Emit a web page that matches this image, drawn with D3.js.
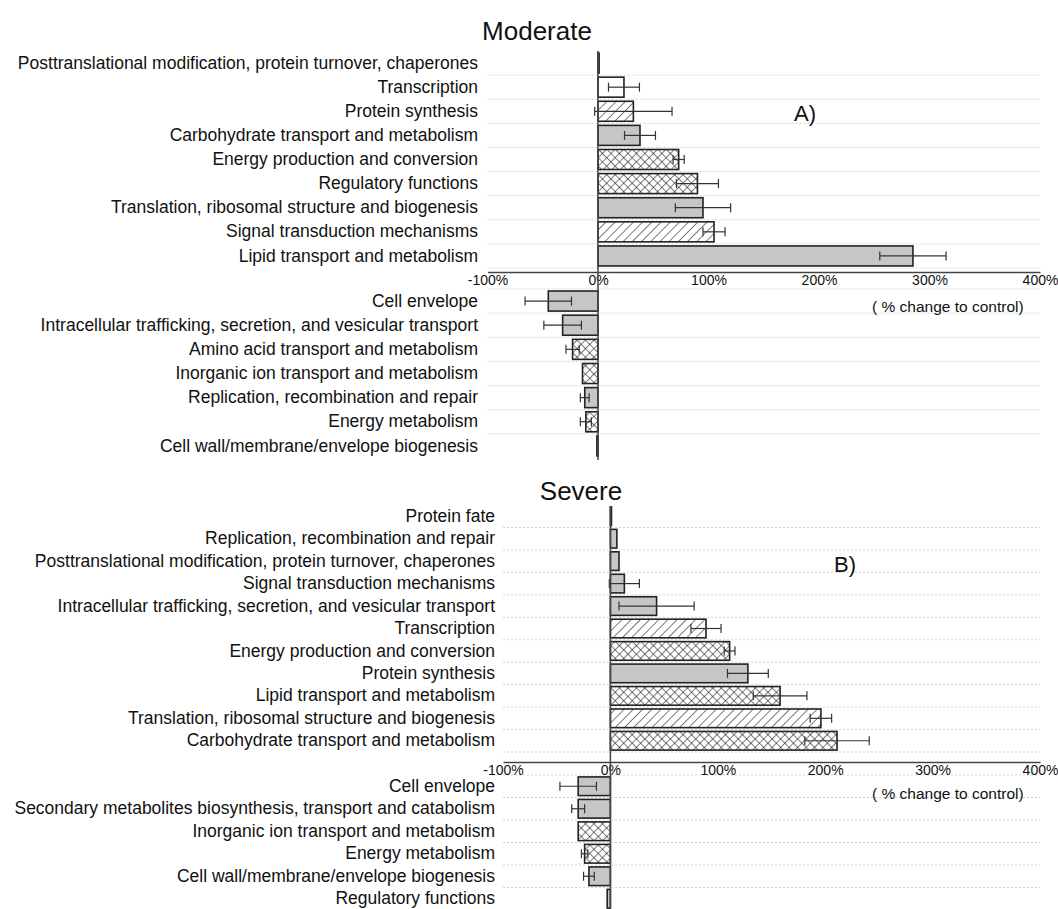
<!DOCTYPE html>
<meta charset="utf-8">
<script src="https://cdn.jsdelivr.net/npm/d3@7"></script>
<style>
    body { margin: 0; background: #fff; }
    svg { font-family: "Liberation Sans", Arial, sans-serif; }
    .cat text { font-size: 17.5px; fill: #111; }
    .xax text { font-size: 14px; fill: #111; }
    .xax path { stroke: #444; stroke-width: 1.5; }
</style>
<svg width="1058" height="909"></svg>
<script>
// ---- data: Moderate (A) ----
var modUpCats = ["Posttranslational modification, protein turnover, chaperones", "Transcription", "Protein synthesis",
    "Carbohydrate transport and metabolism", "Energy production and conversion", "Regulatory functions",
    "Translation, ribosomal structure and biogenesis", "Signal transduction mechanisms", "Lipid transport and metabolism"];
var modUpVals = [1, 23.5, 32, 38, 73, 90, 95, 105, 285];
var modUpErr  = [0, 14, 35, 14, 5, 19, 25, 10, 30];
var modUpFill = ["gray", "white", "diag", "gray", "cross", "cross", "gray", "diag", "gray"];

var modDownCats = ["Cell envelope", "Intracellular trafficking, secretion, and vesicular transport",
    "Amino acid transport and metabolism", "Inorganic ion transport and metabolism",
    "Replication, recombination and repair", "Energy metabolism", "Cell wall/membrane/envelope biogenesis"];
var modDownVals = [-45, -32, -23, -14, -12, -11, -1];
var modDownErr  = [21, 17, 6, 0, 4, 5, 0];
var modDownFill = ["gray", "gray", "cross", "cross", "gray", "cross", "gray"];

// ---- data: Severe (B) ----
var sevUpCats = ["Protein fate", "Replication, recombination and repair",
    "Posttranslational modification, protein turnover, chaperones", "Signal transduction mechanisms",
    "Intracellular trafficking, secretion, and vesicular transport", "Transcription",
    "Energy production and conversion", "Protein synthesis", "Lipid transport and metabolism",
    "Translation, ribosomal structure and biogenesis", "Carbohydrate transport and metabolism"];
var sevUpVals = [1, 6, 8, 13, 43, 89, 111, 128, 158, 196, 211];
var sevUpErr  = [0, 0, 0, 14, 35, 14, 5, 19, 25, 10, 30];
var sevUpFill = ["gray", "gray", "gray", "gray", "gray", "diag", "cross", "gray", "cross", "diag", "cross"];

var sevDownCats = ["Cell envelope", "Secondary metabolites biosynthesis, transport and catabolism",
    "Inorganic ion transport and metabolism", "Energy metabolism",
    "Cell wall/membrane/envelope biogenesis", "Regulatory functions"];
var sevDownVals = [-30, -30, -30, -24, -20, -3];
var sevDownErr  = [17, 6, 0, 3, 5, 0];
var sevDownFill = ["gray", "gray", "cross", "cross", "gray", "gray"];

var ticks = [-100, 0, 100, 200, 300, 400];

var svg = d3.select("svg");

// hatch patterns
var defs = svg.append("defs");
var diag = defs.append("pattern").attr("id", "diag").attr("patternUnits", "userSpaceOnUse")
    .attr("width", 6.5).attr("height", 6.5).attr("patternTransform", "rotate(45)");
diag.append("rect").attr("width", 6.5).attr("height", 6.5).attr("fill", "#fff");
diag.append("line").attr("x1", 0).attr("y1", 0).attr("x2", 0).attr("y2", 6.5).attr("stroke", "#111").attr("stroke-width", 1.1);
var cross = defs.append("pattern").attr("id", "cross").attr("patternUnits", "userSpaceOnUse")
    .attr("width", 6).attr("height", 6).attr("patternTransform", "rotate(45)");
cross.append("rect").attr("width", 6).attr("height", 6).attr("fill", "#fff");
cross.append("line").attr("x1", 0).attr("y1", 0).attr("x2", 0).attr("y2", 6).attr("stroke", "#111").attr("stroke-width", 1.1);
cross.append("line").attr("x1", 0).attr("y1", 0).attr("x2", 6).attr("y2", 0).attr("stroke", "#111").attr("stroke-width", 1.1);

var fills = { gray: "#c6c6c6", white: "#fff", diag: "url(#diag)", cross: "url(#cross)" };

function group(cats, vals, errs, fl, x, y0, y1, labelX, first) {
    var y = d3.scaleBand().domain(cats).range([y0, y1]).paddingInner(0.17).paddingOuter(0.085);
    var step = y.step();
    // dotted grid lines between rows
    var lines = cats.map(function(c, i) { return y0 + step * (first ? i + 1 : i); });
    svg.append("g").selectAll("line").data(lines).join("line")
        .attr("x1", x.range()[0]).attr("x2", x.range()[1])
        .attr("y1", function(d) { return d; }).attr("y2", function(d) { return d; })
        .attr("stroke", "#c8c8c8").attr("stroke-width", 0.8).attr("stroke-dasharray", "2,2");

    svg.append("g").attr("class", "cat").attr("transform", "translate(" + labelX + ",0)")
        .call(d3.axisLeft(y).tickSize(0).tickPadding(0))
        .call(function(g) { g.select(".domain").remove(); });

    var rows = cats.map(function(c, i) { return { c: c, v: vals[i], e: errs[i], f: fl[i] }; });
    svg.append("g").selectAll("rect").data(rows).join("rect")
        .attr("x", function(d) { return Math.min(x(0), x(d.v)); })
        .attr("y", function(d) { return y(d.c); })
        .attr("width", function(d) { return Math.abs(x(d.v) - x(0)); })
        .attr("height", y.bandwidth())
        .attr("fill", function(d) { return fills[d.f]; })
        .attr("stroke", "#222").attr("stroke-width", 1.6);

    var eb = svg.append("g").attr("stroke", "#333").attr("stroke-width", 1.2)
        .selectAll("g").data(rows.filter(function(d) { return d.e > 0; })).join("g");
    eb.append("line")
        .attr("x1", function(d) { return x(d.v - d.e); }).attr("x2", function(d) { return x(d.v + d.e); })
        .attr("y1", function(d) { return y(d.c) + y.bandwidth() / 2; })
        .attr("y2", function(d) { return y(d.c) + y.bandwidth() / 2; });
    [-1, 1].forEach(function(s) {
        eb.append("line")
            .attr("x1", function(d) { return x(d.v + s * d.e); }).attr("x2", function(d) { return x(d.v + s * d.e); })
            .attr("y1", function(d) { return y(d.c) + y.bandwidth() / 2 - 4.5; })
            .attr("y2", function(d) { return y(d.c) + y.bandwidth() / 2 + 4.5; });
    });
}

function panel(opt) {
    var x = d3.scaleLinear().domain([-100, 400]).range([opt.x0, 1040]);
    group(opt.upCats, opt.upVals, opt.upErr, opt.upFill, x, opt.upY[0], opt.upY[1], opt.labelX, true);
    group(opt.downCats, opt.downVals, opt.downErr, opt.downFill, x, opt.downY[0], opt.downY[1], opt.labelX, false);

    svg.append("g").attr("class", "xax").attr("transform", "translate(0," + opt.axisY + ")")
        .call(d3.axisBottom(x).tickValues(ticks).tickSize(0).tickPadding(3).tickFormat(function(d) { return d + "%"; }));
    svg.append("line").attr("x1", x(0)).attr("x2", x(0)).attr("y1", opt.zeroY[0]).attr("y2", opt.zeroY[1])
        .attr("stroke", "#444").attr("stroke-width", 1.5);

    svg.append("text").attr("x", opt.titleX).attr("y", opt.titleY).attr("text-anchor", "middle")
        .attr("font-size", 26).attr("fill", "#111").text(opt.title);
    svg.append("text").attr("x", opt.tagX).attr("y", opt.tagY).attr("font-size", 22).attr("fill", "#111").text(opt.tag);
    svg.append("text").attr("x", 872).attr("y", opt.unitY).attr("font-size", 15.5).attr("fill", "#111")
        .text("( % change to control)");
}

panel({
    title: "Moderate", titleX: 537, titleY: 40, tag: "A)", tagX: 794, tagY: 121,
    x0: 487.5, axisY: 272, zeroY: [51, 460], labelX: 478, unitY: 312,
    upCats: modUpCats, upVals: modUpVals, upErr: modUpErr, upFill: modUpFill, upY: [51, 268],
    downCats: modDownCats, downVals: modDownVals, downErr: modDownErr, downFill: modDownFill, downY: [289, 458]
});

panel({
    title: "Severe", titleX: 581, titleY: 500, tag: "B)", tagX: 834, tagY: 572,
    x0: 503, axisY: 762, zeroY: [506, 909], labelX: 495, unitY: 799,
    upCats: sevUpCats, upVals: sevUpVals, upErr: sevUpErr, upFill: sevUpFill, upY: [505, 752],
    downCats: sevDownCats, downVals: sevDownVals, downErr: sevDownErr, downFill: sevDownFill, downY: [775, 910]
});
</script>
